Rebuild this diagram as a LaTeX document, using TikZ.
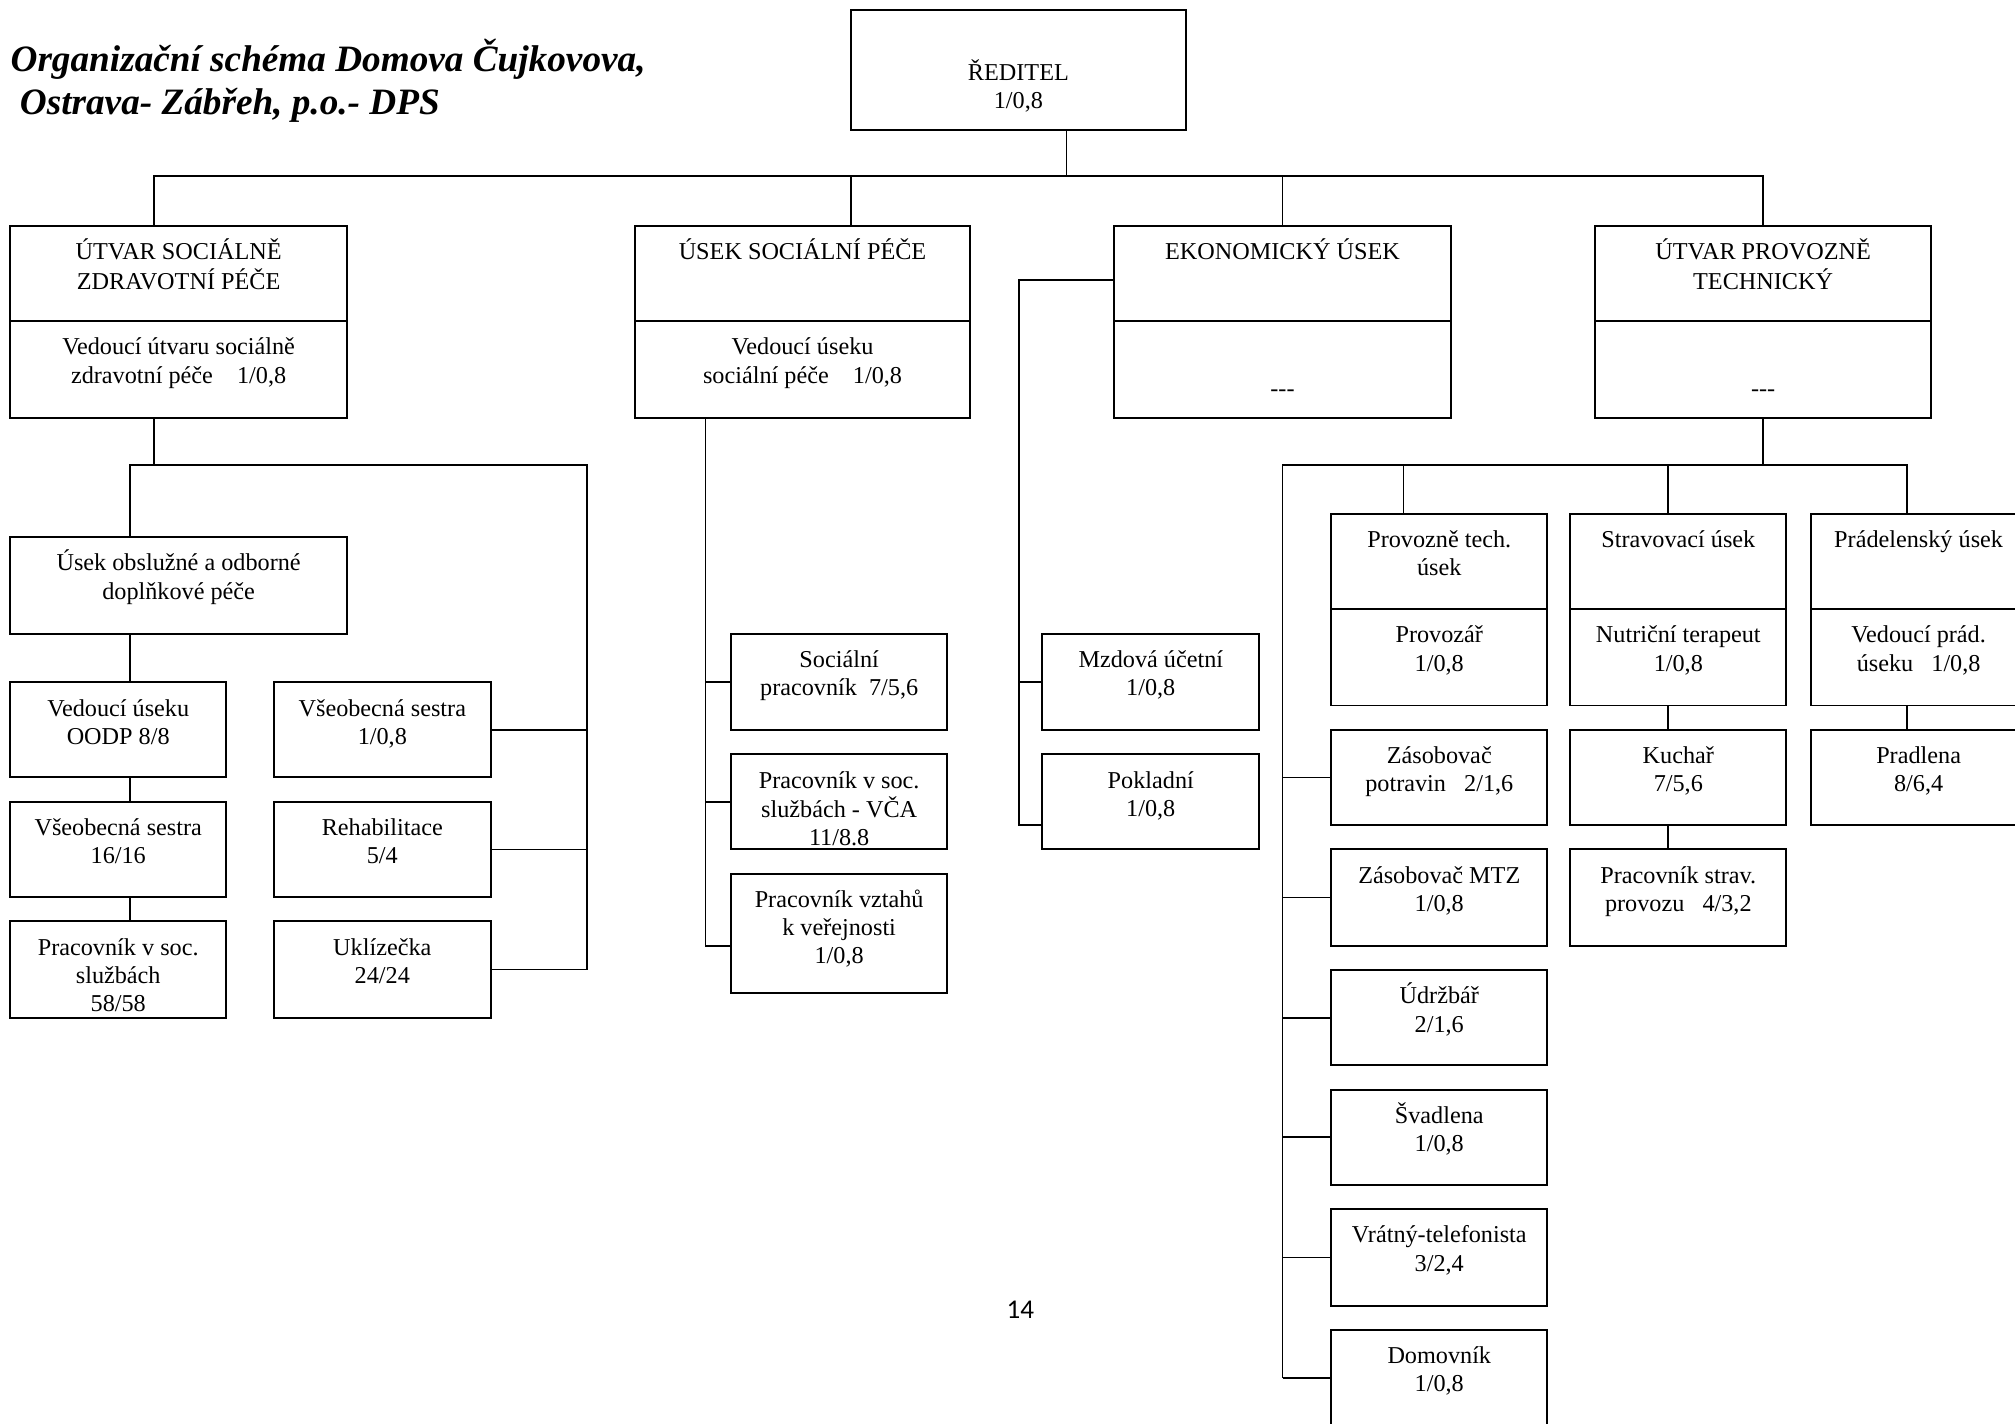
\documentclass[tikz,border=0pt]{standalone}
\usepackage{fontspec}
\setmainfont{Liberation Serif}
\newfontfamily\pagefont{Carlito}
\tikzset{
 box/.style={draw, line width=1.1pt, inner sep=0pt, rectangle},
 lbl/.style={anchor=base, inner sep=0pt, font=\fontsize{13.4}{15.6}\selectfont},
 conn/.style={line width=0.9pt},
}
\newcommand\mkbox[5]{\node[box, minimum width={(#4-#2)*0.025cm}, minimum height={(#5-#3)*0.025cm}] (#1) at ({(#2+#4)/2},{(#3+#5)/2}) {};}
\newcommand\mktxt[3][27]{\node[lbl, yshift={-(#1)*0.025cm}] (#2-t) at (#2.north) {\begin{tabular}[t]{@{}c@{}}#3\end{tabular}};}
\begin{document}
\begin{tikzpicture}[x=0.025cm,y=-0.025cm]
\useasboundingbox (0,0) rectangle (1568,1108);
% title
\node[anchor=base west, inner sep=0pt, font=\fontsize{20.6}{23.5}\selectfont\bfseries\itshape] (title) at (8,56)
 {\begin{tabular}[t]{@{}l@{}}Organizační schéma Domova Čujkovova,\\\hspace*{0.25em}Ostrava- Zábřeh, p.o.- DPS\end{tabular}};
% director
\mkbox{red}{662}{8}{923}{101} \mktxt[55.5]{red}{ŘEDITEL\\1/0,8}
% level 1
\mkbox{A1}{8}{176}{270}{250} \mktxt{A1}{ÚTVAR SOCIÁLNĚ\\ZDRAVOTNÍ PÉČE}
\mkbox{A2}{8}{250}{270}{325} \mktxt{A2}{Vedoucí útvaru sociálně\\zdravotní péče~~~~1/0,8}
\mkbox{B1}{494}{176}{755}{250} \mktxt{B1}{ÚSEK SOCIÁLNÍ PÉČE}
\mkbox{B2}{494}{250}{755}{325} \mktxt{B2}{Vedoucí úseku\\sociální péče~~~~1/0,8}
\mkbox{C1}{867}{176}{1129}{250} \mktxt{C1}{EKONOMICKÝ ÚSEK}
\mkbox{C2}{867}{250}{1129}{325} \mktxt[59]{C2}{-{}-{}-}
\mkbox{D1}{1241}{176}{1503}{250} \mktxt{D1}{ÚTVAR PROVOZNĚ\\TECHNICKÝ}
\mkbox{D2}{1241}{250}{1503}{325} \mktxt[59]{D2}{-{}-{}-}
% under A
\mkbox{U}{8}{418}{270}{493} \mktxt{U}{Úsek obslužné a odborné\\doplňkové péče}
\mkbox{L1}{8}{531}{176}{605} \mktxt{L1}{Vedoucí úseku\\OODP 8/8}
\mkbox{L2}{8}{624}{176}{698} \mktxt{L2}{Všeobecná sestra\\16/16}
\mkbox{L3}{8}{717}{176}{792} \mktxt{L3}{Pracovník v soc.\\službách\\58/58}
\mkbox{R1}{213}{531}{382}{605} \mktxt{R1}{Všeobecná sestra\\1/0,8}
\mkbox{R2}{213}{624}{382}{698} \mktxt{R2}{Rehabilitace\\5/4}
\mkbox{R3}{213}{717}{382}{792} \mktxt{R3}{Uklízečka\\24/24}
% under B
\mkbox{S1}{569}{493}{737}{568} \mktxt{S1}{Sociální\\pracovník~~7/5,6}
\mkbox{S2}{569}{587}{737}{661} \mktxt{S2}{Pracovník v soc.\\službách - VČA\\11/8.8}
\mkbox{S3}{569}{680}{737}{773} \mktxt{S3}{Pracovník vztahů\\k veřejnosti\\1/0,8}
% under C
\mkbox{M1}{811}{493}{980}{568} \mktxt{M1}{Mzdová účetní\\1/0,8}
\mkbox{P2}{811}{587}{980}{661} \mktxt{P2}{Pokladní\\1/0,8}
% under D
\mkbox{E1}{1036}{400}{1204}{474} \mktxt{E1}{Provozně tech.\\úsek}
\mkbox{E2}{1036}{474}{1204}{549} \mktxt{E2}{Provozář\\1/0,8}
\mkbox{F1}{1222}{400}{1390}{474} \mktxt{F1}{Stravovací úsek}
\mkbox{F2}{1222}{474}{1390}{549} \mktxt{F2}{Nutriční terapeut\\1/0,8}
\mkbox{G1}{1409}{400}{1577}{474} \mktxt{G1}{Prádelenský úsek}
\mkbox{G2}{1409}{474}{1577}{549} \mktxt{G2}{Vedoucí prád.\\úseku~~~1/0,8}
\mkbox{K1}{1222}{568}{1390}{642} \mktxt{K1}{Kuchař\\7/5,6}
\mkbox{K2}{1222}{661}{1390}{736} \mktxt{K2}{Pracovník strav.\\provozu~~~4/3,2}
\mkbox{G3}{1409}{568}{1577}{642} \mktxt{G3}{Pradlena\\8/6,4}
\mkbox{Z1}{1036}{568}{1204}{642} \mktxt{Z1}{Zásobovač\\potravin~~~2/1,6}
\mkbox{Z2}{1036}{661}{1204}{736} \mktxt{Z2}{Zásobovač MTZ\\1/0,8}
\mkbox{Z3}{1036}{755}{1204}{829} \mktxt{Z3}{Údržbář\\2/1,6}
\mkbox{Z4}{1036}{848}{1204}{922} \mktxt{Z4}{Švadlena\\1/0,8}
\mkbox{Z5}{1036}{941}{1204}{1016} \mktxt{Z5}{Vrátný-telefonista\\3/2,4}
\mkbox{Z6}{1036}{1035}{1204}{1110} \mktxt{Z6}{Domovník\\1/0,8}
% page number
\node[anchor=base, inner sep=0pt, font=\pagefont\fontsize{15}{18}\selectfont] (pg) at (794,1026) {14};
% connectors: top
\coordinate (j0) at (830,137);
\draw[conn] (830,0 |- red.south) -- (j0);
\draw[conn] (120,0 |- A1.north) -- (120,137) -- (1372,137) -- (1372,0 |- D1.north);
\draw[conn] (662,137) -- (662,0 |- B1.north);
\draw[conn] (998,137) -- (998,0 |- C1.north);
% A
\draw[conn] (120,0 |- A2.south) -- (120,362);
\draw[conn] (101,0 |- U.north) -- (101,362) -- (457,362) -- (457,0 |- R3.east);
\draw[conn] (R1.east) -- (457,0 |- R1.east);
\draw[conn] (R2.east) -- (457,0 |- R2.east);
\draw[conn] (R3.east) -- (457,0 |- R3.east);
\draw[conn] (101,0 |- U.south) -- (101,0 |- L1.north);
\draw[conn] (101,0 |- L1.south) -- (101,0 |- L2.north);
\draw[conn] (101,0 |- L2.south) -- (101,0 |- L3.north);
% B
\draw[conn] (549,0 |- B2.south) -- (549,736) -- (S3.west |- 0,736);
\draw[conn] (549,0 |- S1.west) -- (S1.west);
\draw[conn] (549,0 |- S2.west) -- (S2.west);
% C
\draw[conn] (C1.west |- 0,218) -- (793,218) -- (793,642) -- (P2.west |- 0,642);
\draw[conn] (793,0 |- M1.west) -- (M1.west);
% D
\draw[conn] (1372,0 |- D2.south) -- (1372,362);
\draw[conn] (998,0 |- Z6.west) -- (998,362) -- (1484,362) -- (1484,0 |- G1.north);
\draw[conn] (1092,362) -- (1092,0 |- E1.north);
\draw[conn] (1298,362) -- (1298,0 |- F1.north);
\foreach \z in {Z1,Z2,Z3,Z4,Z5,Z6} {\draw[conn] (998,0 |- \z.west) -- (\z.west);}
\draw[conn] (1298,0 |- F2.south) -- (1298,0 |- K1.north);
\draw[conn] (1298,0 |- K1.south) -- (1298,0 |- K2.north);
\draw[conn] (1484,0 |- G2.south) -- (1484,0 |- G3.north);
\end{tikzpicture}
\end{document}
